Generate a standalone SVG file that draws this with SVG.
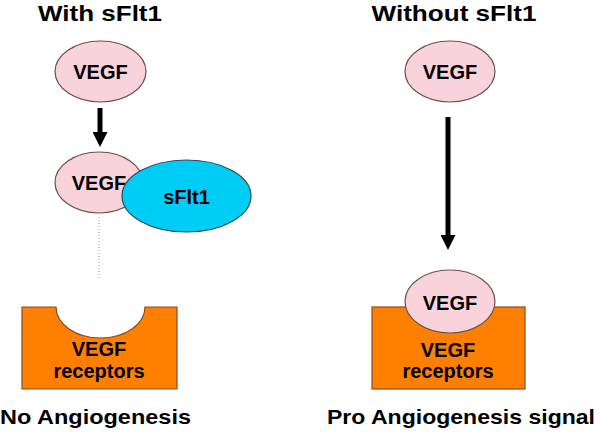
<svg xmlns="http://www.w3.org/2000/svg" width="600" height="432" viewBox="0 0 600 432">
<style>
text{font-family:"Liberation Sans",Arial,sans-serif;font-weight:bold;fill:#000;text-anchor:middle}
.t{font-size:22px}
.n{font-size:20px}
.f{font-size:21px}
.vegf{fill:#f9d3dc;stroke:#6b4f4f;stroke-width:1.2}
.sflt{fill:#00cdf5;stroke:#2a4a5a;stroke-width:1.2}
.rec{fill:#ff7f00;stroke:#8a4a2a;stroke-width:1.2}
</style>
<defs>
<marker id="ah" markerWidth="3" markerHeight="3" refX="0" refY="1.5" orient="auto" markerUnits="strokeWidth">
<path d="M0,0 L3,1.5 L0,3 Z" fill="#000"/>
</marker>
</defs>
<text class="t" x="100" y="20.5" textLength="124" lengthAdjust="spacingAndGlyphs">With sFlt1</text>
<text class="t" x="454" y="20.5" textLength="165" lengthAdjust="spacingAndGlyphs">Without sFlt1</text>
<g id="connectors">
<line x1="100" y1="108" x2="100" y2="132" stroke="#000" stroke-width="5" marker-end="url(#ah)"/>
<line x1="99" y1="217" x2="99" y2="279" stroke="#999" stroke-width="1" stroke-dasharray="1,2"/>
<line x1="448" y1="117" x2="448" y2="235" stroke="#000" stroke-width="5" marker-end="url(#ah)"/>
</g>
<g id="vegf-left-top">
<ellipse class="vegf" cx="100.5" cy="71.5" rx="45.5" ry="30.5"/>
<text class="n" x="100.5" y="79">VEGF</text>
</g>
<g id="vegf-left-bound">
<ellipse class="vegf" cx="99" cy="182.5" rx="44" ry="30.5"/>
<text class="n" x="99" y="190">VEGF</text>
</g>
<g id="sflt1">
<ellipse class="sflt" cx="186.5" cy="196" rx="64.5" ry="36"/>
<text class="n" x="186.5" y="204">sFlt1</text>
</g>
<g id="receptor-left">
<path class="rec" d="M22,307 L56,307 A44.5,31 0 0 0 145,307 L177,307 L177,389 L22,389 Z"/>
<text class="n" x="99" y="356">VEGF</text>
<text class="n" x="99" y="378">receptors</text>
</g>
<g id="receptor-right">
<rect class="rec" x="372" y="307" width="153" height="82"/>
<text class="n" x="448" y="357">VEGF</text>
<text class="n" x="448" y="378">receptors</text>
</g>
<g id="vegf-right-top">
<ellipse class="vegf" cx="450" cy="71.5" rx="45" ry="30.5"/>
<text class="n" x="450" y="79">VEGF</text>
</g>
<g id="vegf-right-bound">
<ellipse class="vegf" cx="450" cy="301.5" rx="45" ry="31.5"/>
<text class="n" x="450" y="310">VEGF</text>
</g>
<text class="f" x="95.5" y="424" textLength="191" lengthAdjust="spacingAndGlyphs">No Angiogenesis</text>
<text class="f" x="461" y="424" textLength="268" lengthAdjust="spacingAndGlyphs">Pro Angiogenesis signal</text>
</svg>
